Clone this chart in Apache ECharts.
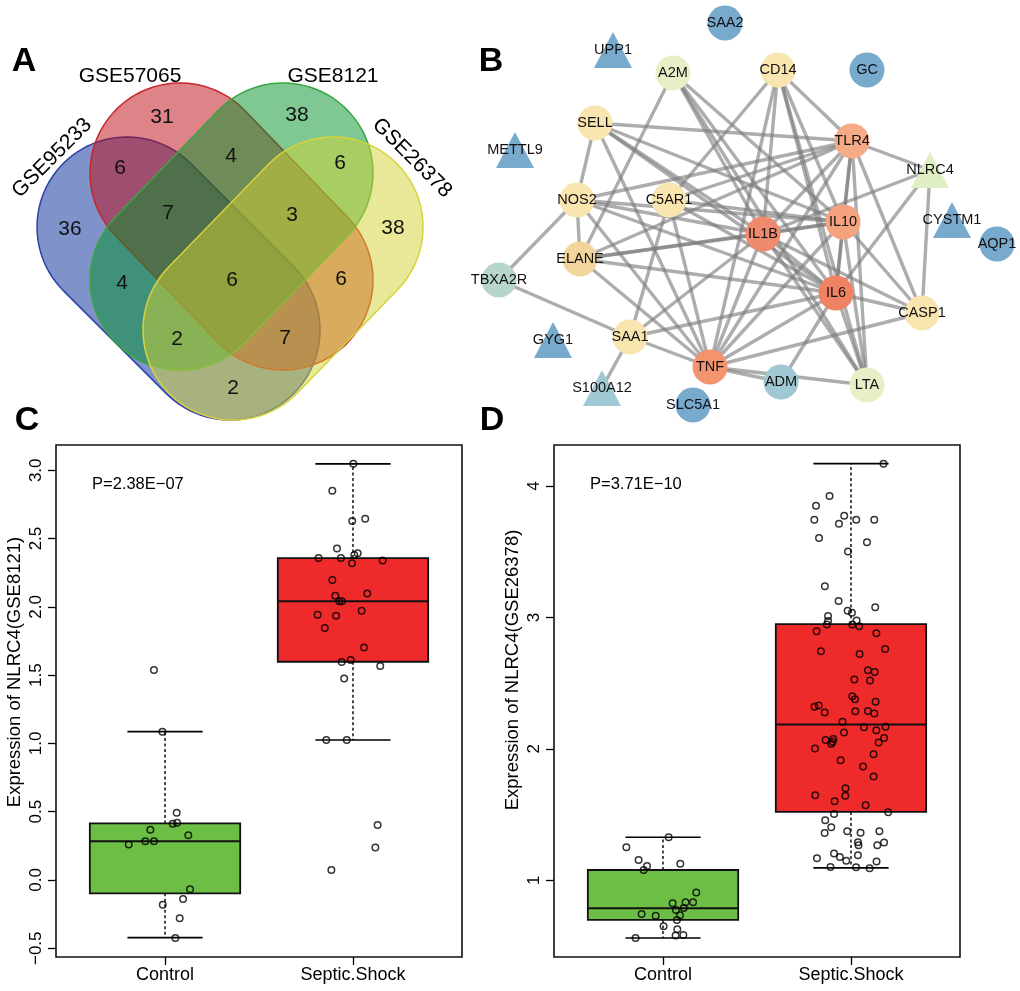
<!DOCTYPE html>
<html><head><meta charset="utf-8">
<script src="https://cdn.jsdelivr.net/npm/echarts@6/dist/echarts.min.js"></script>
<style>html,body{margin:0;padding:0;background:#fff}#c{width:1020px;height:991px}</style>
</head><body><div id="c"></div>
<script>
// ---------------- DATA ----------------
// Panel A: Venn
const vennSets = ['GSE95233', 'GSE57065', 'GSE8121', 'GSE26378'];
const vennCounts = [36, 31, 38, 38, 6, 4, 6, 7, 3, 4, 6, 6, 2, 7, 2];

// Panel B: network
const geneNames = ['SAA2','UPP1','A2M','CD14','GC','SELL','METTL9','TLR4','NLRC4','NOS2','C5AR1','IL10','IL1B','CYSTM1','AQP1','ELANE','TBXA2R','IL6','CASP1','SAA1','GYG1','TNF','ADM','LTA','S100A12','SLC5A1'];
const geneLayoutX = [245,133,193,298,387,115,35,372,450,97,189,363,283,472,517,100,19,356,442,150,73,230,301,387,122,213];
const geneLayoutY = [23,50,73,70,70,123,150,141,170,200,200,222,234,220,244,259,280,293,313,337,340,367,382,385,388,405];
const geneShape = ['circle','triangle','circle','circle','circle','circle','triangle','circle','triangle','circle','circle','circle','circle','triangle','circle','circle','circle','circle','circle','circle','triangle','circle','circle','circle','triangle','circle'];
const geneGroup = ['iso','iso','g3','g2','iso','g2','iso','h5','g4','g2','g2','h4','h2','iso','iso','g1','g5','h1','g2','g2','iso','h3','g6','g3','g6','iso'];
const geneEdges = [
['TNF','IL6'],['TNF','IL1B'],['TNF','IL10'],['TNF','TLR4'],['IL6','IL1B'],['IL6','IL10'],['IL6','TLR4'],['IL1B','IL10'],['IL1B','TLR4'],['IL10','TLR4'],
['CD14','TLR4'],['CD14','C5AR1'],['CD14','IL1B'],['CD14','IL6'],['CD14','IL10'],['CD14','TNF'],['CD14','LTA'],
['A2M','ELANE'],['A2M','IL1B'],['A2M','IL6'],['A2M','IL10'],['A2M','LTA'],
['SELL','TLR4'],['SELL','NOS2'],['SELL','IL1B'],['SELL','IL6'],['SELL','IL10'],['SELL','TNF'],
['NOS2','TLR4'],['NOS2','IL10'],['NOS2','IL1B'],['NOS2','IL6'],['NOS2','TNF'],['NOS2','ELANE'],['NOS2','TBXA2R'],
['C5AR1','TLR4'],['C5AR1','IL10'],['C5AR1','IL6'],['C5AR1','TNF'],['C5AR1','SAA1'],
['ELANE','IL1B'],['ELANE','IL10'],['ELANE','IL6'],['ELANE','TLR4'],['ELANE','TNF'],
['SAA1','TBXA2R'],['SAA1','S100A12'],['SAA1','TNF'],['SAA1','IL6'],['SAA1','IL1B'],
['TNF','ADM'],['TNF','LTA'],['TNF','CASP1'],['ADM','IL6'],
['LTA','IL6'],['LTA','IL1B'],['LTA','IL10'],['LTA','TLR4'],
['CASP1','NLRC4'],['CASP1','IL6'],['CASP1','IL1B'],['CASP1','IL10'],['CASP1','TLR4'],
['NLRC4','TLR4'],['NLRC4','IL1B'],['NLRC4','IL6']
];

// Panel C (GSE8121)
const groups = ['Control', 'Septic.Shock'];
const cBoxControl = [-0.422, -0.098, 0.283, 0.414, 1.086];   // low whisker, Q1, median, Q3, high whisker
const cBoxShock   = [1.025, 1.598, 2.040, 2.357, 3.047];
const cControlVals = [1.086,0.493,0.412,0.419,0.368,0.327,0.259,0.283,0.283,-0.068,-0.140,-0.181,-0.281,-0.425,1.537];
const cControlJit  = [-0.014,0.062,0.041,0.064,-0.078,0.124,-0.193,-0.105,-0.059,0.133,0.096,-0.012,0.078,0.055,-0.059];
const cShockVals = [3.047,2.850,2.628,2.645,2.428,2.393,2.379,2.357,2.357,2.340,2.320,2.196,2.081,2.098,2.040,2.040,1.972,1.942,1.934,1.845,1.703,1.610,1.596,1.567,1.476,1.025,1.025,0.403,0.237,0.073];
const cShockJit  = [0.002,-0.110,-0.004,0.065,-0.085,0.025,0.007,-0.183,-0.064,0.158,-0.005,-0.110,-0.094,0.076,-0.073,-0.059,0.046,-0.188,-0.090,-0.150,0.059,-0.012,-0.060,0.145,-0.047,-0.142,-0.033,0.131,0.119,-0.115];
const cTicks = [-0.5, 0, 0.5, 1.0, 1.5, 2.0, 2.5, 3.0];
const cPval = 'P=2.38E\u221207';

// Panel D (GSE26378)
const dBoxControl = [0.561, 0.698, 0.787, 1.078, 1.327];
const dBoxShock   = [1.094, 1.520, 2.186, 2.950, 4.171];
const dControlVals = [1.327,1.251,1.155,1.109,1.078,1.126,0.906,0.825,0.832,0.832,0.774,0.789,0.743,0.730,0.733,0.698,0.650,0.627,0.579,0.583,0.561];
const dControlJit  = [0.030,-0.195,-0.130,-0.085,-0.103,0.092,0.177,0.051,0.120,0.160,0.069,0.110,-0.114,-0.039,0.090,0.074,0.003,0.076,0.067,0.108,-0.146];
const dShockVals = [4.171,3.925,3.851,3.774,3.744,3.744,3.744,3.713,3.605,3.572,3.503,3.237,3.125,3.079,3.051,3.037,3.011,2.974,2.947,2.947,2.977,2.934,2.896,2.881,2.744,2.723,2.761,2.599,2.586,2.528,2.520,2.401,2.378,2.358,2.320,2.330,2.277,2.287,2.289,2.269,2.206,2.165,2.142,2.168,2.068,2.075,2.040,2.055,2.124,2.003,2.083,2.048,1.960,1.914,1.866,1.789,1.700,1.647,1.644,1.601,1.571,1.517,1.504,1.457,1.404,1.360,1.373,1.362,1.373,1.289,1.267,1.267,1.287,1.203,1.177,1.190,1.168,1.149,1.142,1.101,1.099,1.091];
const dShockJit  = [0.173,-0.114,-0.186,-0.036,-0.195,0.028,0.124,-0.064,-0.170,0.085,-0.016,-0.139,-0.066,0.129,-0.018,0.005,-0.122,-0.122,-0.128,0.007,0.030,0.044,-0.183,0.135,-0.160,0.046,0.182,0.090,0.126,0.018,0.101,0.007,0.021,0.131,-0.194,-0.172,-0.140,0.023,0.090,0.124,-0.045,0.069,0.135,0.184,-0.135,-0.094,-0.105,-0.098,-0.037,-0.191,0.176,0.147,0.120,-0.055,0.064,0.120,-0.029,-0.190,-0.030,-0.087,0.078,0.198,-0.090,-0.137,-0.105,-0.140,-0.020,0.051,0.151,0.037,0.040,0.140,0.176,-0.090,-0.059,0.037,-0.181,-0.025,0.136,-0.109,0.027,0.099];
const dTicks = [1, 2, 3, 4];
const dPval = 'P=3.71E\u221210';

// ---------------- LAYOUT / STYLE ----------------
const FONT = 'Liberation Sans, Arial, Helvetica, sans-serif';
// Venn geometry (capsules: two cap centres + radius, in panel pixel units)
const vennGeom = [
  {c1:[127,227], c2:[230,330], r:90},
  {c1:[180,173], c2:[283,280], r:90},
  {c1:[283,173], c2:[180,280], r:90},
  {c1:[333,227], c2:[233,330], r:90}
];
const vennFill = ['rgba(0,40,150,0.5)','rgba(190,10,20,0.5)','rgba(0,145,40,0.5)','rgba(210,210,50,0.5)'];
const vennStroke = ['#2a44a8','#c8262a','#3aa642','#d8d23a'];
const vennCountPos = [[70,229],[162,117],[297,115],[393,228],[120,168],[231,156],[340,163],[168,213],[292,215],[122,283],[232,280],[341,279],[177,339],[285,338],[233,388]];
const vennNamePos = [[52,158,45],[130,76,0],[333,76,0],[412,158,-45]];

const groupColor = {
  h1:'#EE8262', h2:'#F08A6C', h3:'#F3946F', h4:'#F5A27F', h5:'#F6AA86',
  g1:'#F2D59C', g2:'#F9E5B0', g3:'#E6EFC6', g4:'#E0EEC4', g5:'#B7D6CB', g6:'#A0C8D3', iso:'#78AACD'
};
const boxColors = ['#6DBE45', '#EE2A2B'];

// ---------------- BUILD ----------------
const chart = echarts.init(document.getElementById('c'), null, {renderer:'canvas'});

function capsule(g, api) {
  const a = Math.atan2(g.c2[1]-g.c1[1], g.c2[0]-g.c1[0]);
  const pts = [], N = 48;
  for (let i = 0; i <= N; i++) { const t = a - Math.PI/2 + Math.PI*i/N; pts.push(api.coord([g.c2[0]+g.r*Math.cos(t), g.c2[1]+g.r*Math.sin(t)])); }
  for (let i = 0; i <= N; i++) { const t = a + Math.PI/2 + Math.PI*i/N; pts.push(api.coord([g.c1[0]+g.r*Math.cos(t), g.c1[1]+g.r*Math.sin(t)])); }
  return pts;
}

function boxRender(params, api) {
  const x = api.value(0), lo = api.value(1), q1 = api.value(2), md = api.value(3), q3 = api.value(4), hi = api.value(5);
  const hw = 0.4, sw = 0.2;
  const P = (xx, yy) => api.coord([xx, yy]);
  const a = P(x-hw, q3), b = P(x+hw, q1);
  const wl = {stroke:'#000', lineWidth:1.4, lineDash:[3,2.5]};
  const sl = {stroke:'#000', lineWidth:1.6};
  return {type:'group', children:[
    {type:'line', shape:{x1:P(x,q3)[0], y1:P(x,q3)[1], x2:P(x,hi)[0], y2:P(x,hi)[1]}, style:wl},
    {type:'line', shape:{x1:P(x,q1)[0], y1:P(x,q1)[1], x2:P(x,lo)[0], y2:P(x,lo)[1]}, style:wl},
    {type:'line', shape:{x1:P(x-sw,hi)[0], y1:P(x-sw,hi)[1], x2:P(x+sw,hi)[0], y2:P(x+sw,hi)[1]}, style:sl},
    {type:'line', shape:{x1:P(x-sw,lo)[0], y1:P(x-sw,lo)[1], x2:P(x+sw,lo)[0], y2:P(x+sw,lo)[1]}, style:sl},
    {type:'rect', shape:{x:a[0], y:a[1], width:b[0]-a[0], height:b[1]-a[1]}, style:{fill:boxColors[params.dataIndex], stroke:'#111', lineWidth:1.8}},
    {type:'line', shape:{x1:P(x-hw,md)[0], y1:P(x-hw,md)[1], x2:P(x+hw,md)[0], y2:P(x+hw,md)[1]}, style:{stroke:'#111', lineWidth:2}}
  ]};
}

const fmtNum = (d) => (v) => (v < 0 ? '\u2212' + Math.abs(v).toFixed(d) : v.toFixed(d));

function boxAxes(gi, yMin, yMax, ticks, dec) {
  return {
    x: {gridIndex:gi, type:'value', min:0.42, max:2.58, position:'bottom',
      axisLine:{show:false, onZero:false}, splitLine:{show:false},
      axisTick:{show:true, customValues:[1,2], length:8, lineStyle:{color:'#000', width:1.3}},
      axisLabel:{customValues:[1,2], formatter:(v)=>groups[Math.round(v)-1], fontSize:18, color:'#000', margin:9, fontFamily:FONT}},
    y: {gridIndex:gi, type:'value', min:yMin, max:yMax, position:'left',
      axisLine:{show:false, onZero:false}, splitLine:{show:false},
      axisTick:{show:true, customValues:ticks, length:8, lineStyle:{color:'#000', width:1.3}},
      axisLabel:{customValues:ticks, rotate:90, formatter:fmtNum(dec), fontSize:17, color:'#000', margin:11, fontFamily:FONT}}
  };
}
const axC = boxAxes(2, -0.564, 3.185, cTicks, 1);
const axD = boxAxes(3, 0.416, 4.313, dTicks, 0);

const nodes = geneNames.map((n, i) => ({
  name:n, value:[geneLayoutX[i], geneLayoutY[i]], symbol:geneShape[i],
  symbolSize: geneShape[i] === 'triangle' ? [38, 36] : 35,
  itemStyle:{color:groupColor[geneGroup[i]]}
}));
const links = geneEdges.map(e => ({source:e[0], target:e[1]}));

const option = {
  animation:false,
  backgroundColor:'#fff',
  grid:[
    {left:0, top:0, width:480, height:420, show:false},
    {left:480, top:0, width:540, height:420, show:false},
    {left:56, top:445, width:406, height:512, show:true, borderColor:'#111', borderWidth:1.6, backgroundColor:'transparent'},
    {left:554, top:445, width:406, height:512, show:true, borderColor:'#111', borderWidth:1.6, backgroundColor:'transparent'}
  ],
  xAxis:[
    {gridIndex:0, type:'value', min:0, max:480, show:false},
    {gridIndex:1, type:'value', min:0, max:540, show:false},
    axC.x, axD.x
  ],
  yAxis:[
    {gridIndex:0, type:'value', min:0, max:420, inverse:true, show:false},
    {gridIndex:1, type:'value', min:0, max:420, inverse:true, show:false},
    axC.y, axD.y
  ],
  series:[
    {type:'custom', xAxisIndex:0, yAxisIndex:0, silent:true, clip:false,
      data:vennSets.map((s,i)=>[i]),
      renderItem:(p, api) => ({type:'polygon', shape:{points:capsule(vennGeom[p.dataIndex], api)},
        style:{fill:vennFill[p.dataIndex], stroke:vennStroke[p.dataIndex], lineWidth:1.5}})},
    {type:'custom', xAxisIndex:0, yAxisIndex:0, silent:true, clip:false, z:5,
      data:vennCounts.map((v,i)=>[i]),
      renderItem:(p, api) => { const pos = api.coord(vennCountPos[p.dataIndex]);
        return {type:'text', x:pos[0], y:pos[1], style:{text:String(vennCounts[p.dataIndex]), fill:'#111', font:'21px ' + FONT, align:'center', verticalAlign:'middle'}}; }},
    {type:'custom', xAxisIndex:0, yAxisIndex:0, silent:true, clip:false, z:5,
      data:vennSets.map((s,i)=>[i]),
      renderItem:(p, api) => { const q = vennNamePos[p.dataIndex]; const pos = api.coord([q[0], q[1]]);
        return {type:'text', x:pos[0], y:pos[1], rotation:q[2]*Math.PI/180, style:{text:vennSets[p.dataIndex], fill:'#000', font:'21px ' + FONT, align:'center', verticalAlign:'middle'}}; }},
    {type:'graph', coordinateSystem:'cartesian2d', xAxisIndex:1, yAxisIndex:1, layout:'none', silent:true,
      data:nodes, links:links,
      lineStyle:{color:'#7a7a7a', width:3.4, opacity:0.62, curveness:0},
      label:{show:true, position:'inside', color:'#111', fontSize:14.5, fontFamily:FONT},
      emphasis:{disabled:true}},
    {type:'custom', xAxisIndex:2, yAxisIndex:2, silent:true, clip:false,
      data:[[1, ...cBoxControl], [2, ...cBoxShock]], encode:{x:0, y:[1,2,3,4,5]}, renderItem:boxRender},
    {type:'scatter', xAxisIndex:2, yAxisIndex:2, silent:true, symbol:'circle', symbolSize:6.5, z:4,
      itemStyle:{color:'rgba(0,0,0,0)', borderColor:'#000', borderWidth:1.5},
      data:cControlVals.map((v,i)=>[1 + cControlJit[i], v]).concat(cShockVals.map((v,i)=>[2 + cShockJit[i], v]))},
    {type:'custom', xAxisIndex:3, yAxisIndex:3, silent:true, clip:false,
      data:[[1, ...dBoxControl], [2, ...dBoxShock]], encode:{x:0, y:[1,2,3,4,5]}, renderItem:boxRender},
    {type:'scatter', xAxisIndex:3, yAxisIndex:3, silent:true, symbol:'circle', symbolSize:6.5, z:4,
      itemStyle:{color:'rgba(0,0,0,0)', borderColor:'#000', borderWidth:1.5},
      data:dControlVals.map((v,i)=>[1 + dControlJit[i], v]).concat(dShockVals.map((v,i)=>[2 + dShockJit[i], v]))}
  ],
  graphic:[
    {type:'text', x:24, y:62, style:{text:'A', font:'bold 34px ' + FONT, fill:'#000', align:'center', verticalAlign:'middle'}},
    {type:'text', x:491, y:62, style:{text:'B', font:'bold 34px ' + FONT, fill:'#000', align:'center', verticalAlign:'middle'}},
    {type:'text', x:27, y:421, style:{text:'C', font:'bold 34px ' + FONT, fill:'#000', align:'center', verticalAlign:'middle'}},
    {type:'text', x:492, y:421, style:{text:'D', font:'bold 34px ' + FONT, fill:'#000', align:'center', verticalAlign:'middle'}},
    {type:'text', x:92, y:484, style:{text:cPval, font:'16.5px ' + FONT, fill:'#000', align:'left', verticalAlign:'middle'}},
    {type:'text', x:590, y:484, style:{text:dPval, font:'16.5px ' + FONT, fill:'#000', align:'left', verticalAlign:'middle'}},
    {type:'text', x:15, y:672, rotation:Math.PI/2, style:{text:'Expression of NLRC4(GSE8121)', font:'18.5px ' + FONT, fill:'#000', align:'center', verticalAlign:'middle'}},
    {type:'text', x:513, y:670, rotation:Math.PI/2, style:{text:'Expression of NLRC4(GSE26378)', font:'18.5px ' + FONT, fill:'#000', align:'center', verticalAlign:'middle'}}
  ]
};
chart.setOption(option);
</script></body></html>
